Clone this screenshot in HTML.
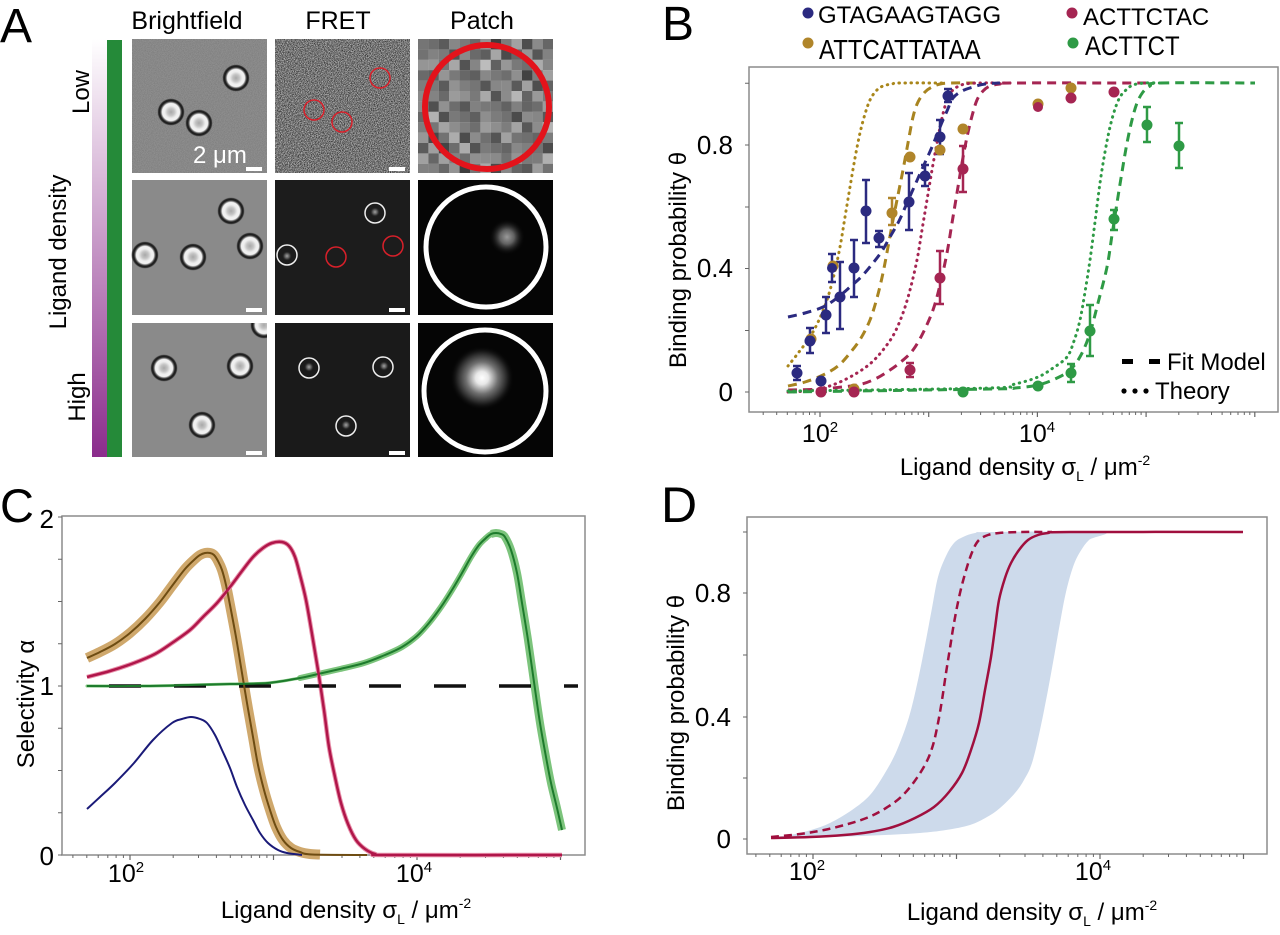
<!DOCTYPE html>
<html><head><meta charset="utf-8">
<style>
html,body{margin:0;padding:0;background:#fff;}
svg{display:block;}
text{font-family:"Liberation Sans",Arial,sans-serif;fill:#000;}
</style></head><body>
<svg width="1280" height="935" viewBox="0 0 1280 935" xmlns="http://www.w3.org/2000/svg">
<defs>
 <linearGradient id="lg" x1="0" y1="0" x2="0" y2="1">
  <stop offset="0" stop-color="#ffffff"/>
  <stop offset="1" stop-color="#8b2c8c"/>
 </linearGradient>
 <filter id="noise" x="0" y="0" width="1" height="1" color-interpolation-filters="sRGB">
  <feTurbulence type="fractalNoise" baseFrequency="1.3" numOctaves="1" seed="3"/>
  <feColorMatrix type="matrix" values="1.4 0 0 0 -0.24  1.4 0 0 0 -0.24  1.4 0 0 0 -0.24  0 0 0 0 1"/>
 </filter>
 <radialGradient id="bead">
  <stop offset="0" stop-color="#a8a8a8"/>
  <stop offset="0.25" stop-color="#c4c4c4"/>
  <stop offset="0.45" stop-color="#eeeeee"/>
  <stop offset="0.62" stop-color="#f2f2f2"/>
  <stop offset="0.72" stop-color="#606060"/>
  <stop offset="0.8" stop-color="#1a1a1a"/>
  <stop offset="0.9" stop-color="#2a2a2a"/>
  <stop offset="1" stop-color="#8a8a8a" stop-opacity="0"/>
 </radialGradient>
 <radialGradient id="spot">
  <stop offset="0" stop-color="#a0a0a0"/>
  <stop offset="0.5" stop-color="#555555"/>
  <stop offset="1" stop-color="#1c1c1c" stop-opacity="0"/>
 </radialGradient>
 <radialGradient id="spotM">
  <stop offset="0" stop-color="#9a9a9a"/>
  <stop offset="0.4" stop-color="#606060"/>
  <stop offset="1" stop-color="#050505" stop-opacity="0"/>
 </radialGradient>
 <radialGradient id="spotH">
  <stop offset="0" stop-color="#ffffff"/>
  <stop offset="0.2" stop-color="#e8e8e8"/>
  <stop offset="0.5" stop-color="#707070"/>
  <stop offset="0.8" stop-color="#202020"/>
  <stop offset="1" stop-color="#050505" stop-opacity="0"/>
 </radialGradient>
 <pattern id="pix" x="418" y="39" width="52" height="52" patternUnits="userSpaceOnUse">
  <rect x="0" y="0" width="10.4" height="10.4" fill="#5a5a5a"/><rect x="10.4" y="0" width="10.4" height="10.4" fill="#9a9a9a"/><rect x="20.8" y="0" width="10.4" height="10.4" fill="#3c3c3c"/><rect x="31.2" y="0" width="10.4" height="10.4" fill="#7e7e7e"/><rect x="41.6" y="0" width="10.4" height="10.4" fill="#b4b4b4"/>
  <rect x="0" y="10.4" width="10.4" height="10.4" fill="#888888"/><rect x="10.4" y="10.4" width="10.4" height="10.4" fill="#606060"/><rect x="20.8" y="10.4" width="10.4" height="10.4" fill="#a8a8a8"/><rect x="31.2" y="10.4" width="10.4" height="10.4" fill="#4a4a4a"/><rect x="41.6" y="10.4" width="10.4" height="10.4" fill="#707070"/>
  <rect x="0" y="20.8" width="10.4" height="10.4" fill="#727272"/><rect x="10.4" y="20.8" width="10.4" height="10.4" fill="#c0c0c0"/><rect x="20.8" y="20.8" width="10.4" height="10.4" fill="#555555"/><rect x="31.2" y="20.8" width="10.4" height="10.4" fill="#969696"/><rect x="41.6" y="20.8" width="10.4" height="10.4" fill="#3a3a3a"/>
  <rect x="0" y="31.2" width="10.4" height="10.4" fill="#444444"/><rect x="10.4" y="31.2" width="10.4" height="10.4" fill="#808080"/><rect x="20.8" y="31.2" width="10.4" height="10.4" fill="#b0b0b0"/><rect x="31.2" y="31.2" width="10.4" height="10.4" fill="#626262"/><rect x="41.6" y="31.2" width="10.4" height="10.4" fill="#8e8e8e"/>
  <rect x="0" y="41.6" width="10.4" height="10.4" fill="#9e9e9e"/><rect x="10.4" y="41.6" width="10.4" height="10.4" fill="#505050"/><rect x="20.8" y="41.6" width="10.4" height="10.4" fill="#6a6a6a"/><rect x="31.2" y="41.6" width="10.4" height="10.4" fill="#c8c8c8"/><rect x="41.6" y="41.6" width="10.4" height="10.4" fill="#585858"/>
 </pattern>
 <pattern id="pix2" x="418" y="39" width="31.2" height="31.2" patternUnits="userSpaceOnUse">
  <rect x="0" y="0" width="10.4" height="10.4" fill="#909090"/><rect x="10.4" y="0" width="10.4" height="10.4" fill="#404040"/><rect x="20.8" y="0" width="10.4" height="10.4" fill="#7a7a7a"/>
  <rect x="0" y="10.4" width="10.4" height="10.4" fill="#5c5c5c"/><rect x="10.4" y="10.4" width="10.4" height="10.4" fill="#a4a4a4"/><rect x="20.8" y="10.4" width="10.4" height="10.4" fill="#4c4c4c"/>
  <rect x="0" y="20.8" width="10.4" height="10.4" fill="#b8b8b8"/><rect x="10.4" y="20.8" width="10.4" height="10.4" fill="#6c6c6c"/><rect x="20.8" y="20.8" width="10.4" height="10.4" fill="#989898"/>
 </pattern>
 <clipPath id="bfh"><rect x="132" y="323" width="135" height="134"/></clipPath>
</defs>

<!-- ================= PANEL A ================= -->
<text x="0" y="42" font-size="48">A</text>
<text x="187" y="29" font-size="25" text-anchor="middle">Brightfield</text>
<text x="338" y="29" font-size="25" text-anchor="middle">FRET</text>
<text x="482" y="29" font-size="25" text-anchor="middle">Patch</text>
<text transform="translate(89,92) rotate(-90)" font-size="24" text-anchor="middle">Low</text>
<text transform="translate(66,252) rotate(-90)" font-size="24" text-anchor="middle">Ligand density</text>
<text transform="translate(85,397) rotate(-90)" font-size="24" text-anchor="middle">High</text>
<rect x="92" y="39" width="15" height="418" fill="url(#lg)"/>
<rect x="107" y="40" width="15" height="417" fill="#258a39"/>

<!-- Brightfield -->
<rect x="132" y="39" width="135" height="134" fill="#8b8b8b"/>
<rect x="132" y="39" width="135" height="134" filter="url(#noise)" opacity="0.12"/>
<circle cx="236" cy="78" r="14" fill="url(#bead)"/>
<circle cx="171" cy="112" r="14" fill="url(#bead)"/>
<circle cx="199" cy="123" r="14" fill="url(#bead)"/>
<text x="193" y="163" font-size="24" style="fill:#fff">2 μm</text>
<rect x="246" y="167" width="16" height="4" fill="#fff"/>

<rect x="132" y="180" width="135" height="135" fill="#8a8a8a"/>
<circle cx="231" cy="211" r="14" fill="url(#bead)"/>
<circle cx="145" cy="255" r="14" fill="url(#bead)"/>
<circle cx="193" cy="257" r="14" fill="url(#bead)"/>
<circle cx="250" cy="246" r="14" fill="url(#bead)"/>
<rect x="246" y="308" width="16" height="4" fill="#fff"/>

<rect x="132" y="323" width="135" height="134" fill="#8a8a8a"/>
<g clip-path="url(#bfh)">
<circle cx="164" cy="368" r="14" fill="url(#bead)"/>
<circle cx="240" cy="366" r="14" fill="url(#bead)"/>
<circle cx="202" cy="425" r="14" fill="url(#bead)"/>
<circle cx="264" cy="325" r="14" fill="url(#bead)"/>
</g>
<rect x="246" y="451" width="16" height="4" fill="#fff"/>

<!-- FRET -->
<rect x="275" y="39" width="135" height="134" fill="#707070"/>
<rect x="275" y="39" width="135" height="134" filter="url(#noise)"/>
<g fill="none" stroke="#d8202a" stroke-width="1.5">
<circle cx="380" cy="78" r="10"/><circle cx="314" cy="110" r="10"/><circle cx="342" cy="122" r="10"/>
</g>
<rect x="389" y="167" width="16" height="4" fill="#fff"/>

<rect x="275" y="180" width="135" height="135" fill="#1c1c1c"/>
<circle cx="375" cy="212" r="5" fill="url(#spot)"/>
<circle cx="287" cy="256" r="5" fill="url(#spot)"/>
<g fill="none" stroke="#eeeeee" stroke-width="1.5"><circle cx="375" cy="213" r="10"/><circle cx="287" cy="255" r="10"/></g>
<g fill="none" stroke="#d8202a" stroke-width="1.5"><circle cx="336" cy="257" r="10"/><circle cx="393" cy="246" r="10"/></g>
<rect x="389" y="308" width="16" height="4" fill="#fff"/>

<rect x="275" y="323" width="135" height="134" fill="#1a1a1a"/>
<circle cx="309" cy="367" r="5" fill="url(#spot)"/>
<circle cx="384" cy="366" r="5" fill="url(#spot)"/>
<circle cx="346" cy="425" r="5" fill="url(#spot)"/>
<g fill="none" stroke="#eeeeee" stroke-width="1.5"><circle cx="309" cy="368" r="10"/><circle cx="383" cy="367" r="10"/><circle cx="346" cy="426" r="10"/></g>
<rect x="389" y="451" width="16" height="4" fill="#fff"/>

<!-- Patch -->
<rect x="418" y="39" width="135" height="134" fill="url(#pix)"/>
<rect x="418" y="39" width="135" height="134" fill="url(#pix2)" opacity="0.5"/>
<circle cx="487" cy="107" r="62" fill="none" stroke="#e3131b" stroke-width="6"/>
<rect x="418" y="180" width="135" height="135" fill="#050505"/>
<circle cx="507" cy="237" r="18" fill="url(#spotM)"/>
<circle cx="486" cy="247" r="60" fill="none" stroke="#fff" stroke-width="5"/>
<rect x="418" y="323" width="135" height="134" fill="#050505"/>
<circle cx="482" cy="378" r="32" fill="url(#spotH)"/>
<circle cx="485" cy="391" r="61" fill="none" stroke="#fff" stroke-width="5"/>

<!-- ================= PANEL B ================= -->
<text x="662" y="40" font-size="48">B</text>
<circle cx="808" cy="13" r="5.5" fill="#2b2a80"/>
<text x="818" y="23" font-size="24">GTAGAAGTAGG</text>
<circle cx="808" cy="43" r="5.5" fill="#b0852a"/>
<text x="819" y="59" font-size="24" transform="translate(0,-9.8) scale(1,1.166)">ATTCATTATAA</text>
<circle cx="1072" cy="13" r="5.5" fill="#a52552"/>
<text x="1083" y="25" font-size="24">ACTTCTAC</text>
<circle cx="1073" cy="43" r="5.5" fill="#2e9a45"/>
<text x="1085" y="55" font-size="24" transform="translate(0,-5.5) scale(1,1.1)">ACTTCT</text>

<rect x="749" y="67" width="529" height="345" fill="none" stroke="#8c8c8c" stroke-width="1.5"/>
<path d="M745,83.3H749M745,145H749M745,207H749M745,268.5H749M745,330.5H749M745,392H749" stroke="#666" stroke-width="1"/>
<path d="M763.2,412v3M776.7,412v3M787.3,412v3M795.9,412v3M803.2,412v3M809.5,412v3M815,412v3M852.7,412v3M871.9,412v3M885.4,412v3M896,412v3M904.6,412v3M911.9,412v3M918.2,412v3M923.7,412v3M961.4,412v3M980.6,412v3M994.1,412v3M1004.7,412v3M1013.3,412v3M1020.6,412v3M1026.9,412v3M1032.4,412v3M1070.1,412v3M1089.3,412v3M1102.8,412v3M1113.4,412v3M1122,412v3M1129.3,412v3M1135.6,412v3M1141.1,412v3M1178.8,412v3M1198,412v3M1211.5,412v3M1222.1,412v3M1230.7,412v3M1238,412v3M1244.3,412v3M1249.8,412v3" stroke="#666" stroke-width="1"/>
<path d="M820,412v5M928.7,412v5M1037.4,412v5M1146.1,412v5M1254.8,412v5" stroke="#666" stroke-width="1.2"/>
<text x="733" y="154" font-size="26" text-anchor="end">0.8</text>
<text x="733" y="277" font-size="26" text-anchor="end">0.4</text>
<text x="733" y="401" font-size="26" text-anchor="end">0</text>
<text x="820" y="442" font-size="25" text-anchor="middle">10<tspan dy="-10" font-size="15">2</tspan></text>
<text x="1037" y="442" font-size="25" text-anchor="middle">10<tspan dy="-10" font-size="15">4</tspan></text>
<text x="1025" y="475" font-size="24" text-anchor="middle">Ligand density σ<tspan dy="6" font-size="14">L</tspan><tspan dy="-6"> / μm</tspan><tspan dy="-10" font-size="14">-2</tspan></text>
<text transform="translate(686,260) rotate(-90)" font-size="24" text-anchor="middle">Binding probability θ</text>

<!-- B curves -->
<g fill="none" stroke-width="3" stroke-linejoin="round">
<path class="sm" stroke="#a9861a" stroke-linecap="round" stroke-dasharray="0.5 5.5" d="M788,366 L799,352 L810,337 L819,320 L827,300 L834,275 L840,247 L845,217 L850,187 L855,158 L860,133 L865,114 L870,100 L876,91 L883,86 L892,84 L900,83 L946,83"/>
<path class="sm" stroke="#a88420" stroke-dasharray="9 6" d="M788,386 L805,382 L823,375 L838,366 L850,353 L861,338 L870,320 L877,298 L883,273 L888,247 L893,220 L898,195 L903,170 L908,143 L913,117 L918,102 L925,92 L932,87 L940,84 L950,83 L975,83"/>
<path class="sm" stroke="#a52552" stroke-linecap="round" stroke-dasharray="0.5 5.5" d="M788,392 L806,391 L823,388 L840,382 L857,373 L871,363 L883,350 L894,334 L903,313 L910,290 L917,260 L922,230 L927,200 L932,170 L937,143 L942,118 L947,100 L952,91 L957,87 L965,84 L980,83 L1010,83"/>
<path class="sm" stroke="#a52552" stroke-dasharray="9 6" d="M788,390 L820,389 L857,385 L875,379 L890,370 L902,361 L913,350 L923,333 L933,310 L940,285 L947,253 L952,223 L957,193 L962,163 L967,137 L972,116 L977,100 L983,91 L990,86 L1000,84 L1010,83 L1147,83"/>
<path class="sm" stroke="#2b2a80" stroke-dasharray="9 6" d="M788,317 L805,313 L823,307 L837,298 L850,287 L862,276 L873,263 L882,251 L890,237 L899,221 L907,203 L915,185 L923,167 L932,147 L940,127 L947,111 L953,98 L962,91 L973,87 L985,84 L1000,83"/>
<path class="sm" stroke="#2e9a45" stroke-linecap="round" stroke-dasharray="0.5 5.5" d="M788,391 L990,388 L1015,384 L1038,377 L1053,368 L1067,357 L1074,341 L1080,320 L1085,292 L1090,260 L1095,222 L1100,183 L1105,152 L1110,127 L1115,109 L1120,97 L1126,90 L1133,85 L1145,83 L1160,83"/>
<path class="sm" stroke="#2e9a45" stroke-dasharray="9 6" d="M788,392 L990,389 L1015,388 L1038,385 L1055,379 L1070,370 L1081,355 L1090,333 L1098,303 L1107,267 L1112,235 L1117,203 L1122,172 L1127,143 L1132,120 L1137,103 L1143,92 L1150,86 L1160,83 L1255,83"/>
</g>

<!-- B error bars -->
<g fill="none" stroke-width="2.5">
<path stroke="#b0852a" d="M892,198V225M888,198H896M888,225H896"/>
<path stroke="#a52552" d="M910,363V377M906,363H914M906,377H914 M940,251V304M936,251H944M936,304H944 M963,146V192M959,146H967M959,192H967"/>
<path stroke="#2e9a45" d="M1071,364V382M1067,364H1075M1067,382H1075 M1090,305V356M1086,305H1094M1086,356H1094 M1114,210V230M1110,210H1118M1110,230H1118 M1147,107V142M1143,107H1151M1143,142H1151 M1179,123V168M1175,123H1183M1175,168H1183"/>
<path stroke="#2b2a80" d="M797,366V380M793,366H801M793,380H801 M810,328V353M806,328H814M806,353H814 M826,297V333M822,297H830M822,333H830 M832,254V282M828,254H836M828,282H836 M840,262V329M836,262H844M836,329H844 M854,240V297M850,240H858M850,297H858 M866,180V243M862,180H870M862,243H870 M879,231V247M875,231H883M875,247H883 M909,173V230M905,173H913M905,230H913 M925,165V186M921,165H929M921,186H929 M940,120V154M936,120H944M936,154H944 M948,89V102M944,89H952M944,102H952"/>
</g>
<!-- B points -->
<g fill="#b0852a">
<circle cx="833" cy="266" r="5.5"/><circle cx="811" cy="339" r="5.5"/><circle cx="892" cy="213" r="5.5"/><circle cx="910" cy="157" r="5.5"/><circle cx="940" cy="150" r="5.5"/><circle cx="963" cy="129" r="5.5"/><circle cx="1038" cy="104" r="5.5"/><circle cx="1071" cy="88" r="5.5"/><circle cx="854" cy="389" r="5.5"/>
</g>
<g fill="#a52552">
<circle cx="821" cy="392" r="5.5"/><circle cx="854" cy="392" r="5.5"/><circle cx="910" cy="370" r="5.5"/><circle cx="940" cy="278" r="5.5"/><circle cx="963" cy="169" r="5.5"/><circle cx="1038" cy="107" r="5"/><circle cx="1071" cy="98" r="5.5"/><circle cx="1114" cy="92" r="5.5"/>
</g>
<g fill="#2e9a45">
<circle cx="963" cy="392" r="5.5"/><circle cx="1038" cy="386" r="5.5"/><circle cx="1071" cy="373" r="5.5"/><circle cx="1090" cy="331" r="5.5"/><circle cx="1114" cy="219" r="5.5"/><circle cx="1147" cy="125" r="5.5"/><circle cx="1179" cy="146" r="5.5"/>
</g>
<g fill="#2b2a80">
<circle cx="797" cy="373" r="5.5"/><circle cx="810" cy="341" r="5.5"/><circle cx="821" cy="381" r="5.5"/><circle cx="826" cy="315" r="5.5"/><circle cx="832" cy="268" r="5"/><circle cx="840" cy="297" r="5.5"/><circle cx="854" cy="268" r="5.5"/><circle cx="866" cy="211" r="5.5"/><circle cx="879" cy="238" r="5.5"/><circle cx="909" cy="202" r="5.5"/><circle cx="925" cy="176" r="5.5"/><circle cx="940" cy="137" r="5.5"/><circle cx="948" cy="96" r="5.5"/>
</g>
<!-- B legend (line styles) -->
<rect x="1122" y="359" width="11" height="5" fill="#000"/>
<rect x="1149" y="359" width="11" height="5" fill="#000"/>
<text x="1167" y="370" font-size="24">Fit Model</text>
<circle cx="1124" cy="391" r="2.6" fill="#000"/><circle cx="1135" cy="391" r="2.6" fill="#000"/><circle cx="1146" cy="391" r="2.6" fill="#000"/>
<text x="1155" y="399" font-size="24">Theory</text>

<!-- ================= PANEL C ================= -->
<text x="0" y="522" font-size="47">C</text>
<rect x="62" y="516" width="523" height="339" fill="none" stroke="#8c8c8c" stroke-width="1.5"/>
<path d="M58,855H62M58,812.75H62M58,770.5H62M58,728.25H62M58,686H62M58,643.75H62M58,601.5H62M58,559.25H62M58,517H62" stroke="#666" stroke-width="1"/>
<path d="M72.9,855v3M86.8,855v3M98.2,855v3M107.8,855v3M116.1,855v3M123.4,855v3M173.2,855v3M198.5,855v3M216.4,855v3M230.3,855v3M241.7,855v3M251.3,855v3M259.6,855v3M266.9,855v3M316.7,855v3M342,855v3M359.9,855v3M373.8,855v3M385.2,855v3M394.8,855v3M403.1,855v3M410.4,855v3M460.2,855v3M485.5,855v3M503.4,855v3M517.3,855v3M528.7,855v3M538.3,855v3M546.6,855v3M553.9,855v3" stroke="#666" stroke-width="1"/>
<path d="M130,855v5M273.5,855v5M417,855v5M560.5,855v5" stroke="#666" stroke-width="1.2"/>
<text x="54" y="528" font-size="26" text-anchor="end">2</text>
<text x="54" y="695" font-size="26" text-anchor="end">1</text>
<text x="54" y="865" font-size="26" text-anchor="end">0</text>
<text x="126" y="882" font-size="25" text-anchor="middle">10<tspan dy="-10" font-size="15">2</tspan></text>
<text x="414" y="882" font-size="25" text-anchor="middle">10<tspan dy="-10" font-size="15">4</tspan></text>
<text x="346" y="918" font-size="24" text-anchor="middle">Ligand density σ<tspan dy="6" font-size="14">L</tspan><tspan dy="-6"> / μm</tspan><tspan dy="-10" font-size="14">-2</tspan></text>
<text transform="translate(34,704) rotate(-90)" font-size="24" text-anchor="middle">Selectivity α</text>

<g fill="none" stroke-linejoin="round">
<!-- gold band -->
<path class="sm" stroke="#cfa86c" stroke-width="10" d="M87,658 L100,652 L115,644 L130,633 L145,619 L160,602 L172,586 L185,569 L195,559 L200,555 L205,553 L210,553 L214,555 L218,561 L222,570 L226,585 L230,605 L236,637 L241,667 L247,703 L253,737 L258,765 L264,790 L270,810 L276,827 L283,840 L291,848 L300,852 L310,854 L320,854.5"/>
<!-- green band -->
<path class="sm" stroke="#7cc47c" stroke-width="3" stroke-linecap="round" d="M87,686 L150,686 L191,685 L230,684 L268,683 L300,678 L318,674"/>
<path class="sm" stroke="#7cc47c" stroke-width="6" stroke-linecap="round" d="M300,678 L318,674 L340,669 L364,663 L385,655 L402,647 L417,636 L429,623 L441,607 L452,590 L462,573 L471,557 L479,545 L486,538 L491,534 L496,533 L501,534 L505,537 L511,550"/>
<path class="sm" stroke="#7cc47c" stroke-width="8" d="M491,534 L496,533 L501,534 L505,537 L511,550 L517,573 L522,603 L528,640 L534,682 L540,723 L546,757 L551,783 L557,808 L562,830"/>
<!-- crimson halo -->
<path class="sm" stroke="#e890aa" stroke-width="4.5" d="M87,677 L110,671 L134,663 L155,654 L172,643 L190,630 L203,617 L217,603 L230,587 L242,571 L253,557 L263,548 L272,543 L282,542 L289,546 L295,557 L300,575 L306,600 L312,634 L318,670 L324,710 L329,747 L335,777 L341,803 L348,824 L356,840 L365,849 L375,854 L390,855 L562,855"/>
</g>
<!-- black dashed -->
<path d="M87,686 L578,686" stroke="#111" stroke-width="3.5" stroke-dasharray="32 33" stroke-dashoffset="43" fill="none"/>
<g fill="none" stroke-linejoin="round">
<path class="sm" stroke="#6e4c12" stroke-width="2" d="M87,658 L100,652 L115,644 L130,633 L145,619 L160,602 L172,586 L185,569 L195,559 L200,555 L205,553 L210,553 L214,555 L218,561 L222,570 L226,585 L230,605 L236,637 L241,667 L247,703 L253,737 L258,765 L264,790 L270,810 L276,827 L283,840 L291,848 L300,852 L312,854.5 L367,855"/>
<path class="sm" stroke="#1d7b2c" stroke-width="2" d="M87,686 L150,686 L191,685 L230,684 L268,683 L300,678 L318,674 L340,669 L364,663 L385,655 L402,647 L417,636 L429,623 L441,607 L452,590 L462,573 L471,557 L479,545 L486,538 L491,534 L496,533 L501,534 L505,537 L511,550 L517,573 L522,603 L528,640 L534,682 L540,723 L546,757 L551,783 L557,808 L562,830"/>
<path class="sm" stroke="#b0164a" stroke-width="2.5" d="M87,677 L110,671 L134,663 L155,654 L172,643 L190,630 L203,617 L217,603 L230,587 L242,571 L253,557 L263,548 L272,543 L282,542 L289,546 L295,557 L300,575 L306,600 L312,634 L318,670 L324,710 L329,747 L335,777 L341,803 L348,824 L356,840 L365,849 L375,854 L390,855 L562,855"/>
<path class="sm" stroke="#1a1a78" stroke-width="2" d="M87,809 L100,797 L115,783 L134,763 L153,740 L172,723 L182,719 L191,717 L200,719 L207,723 L215,735 L222,750 L230,768 L237,787 L245,805 L253,820 L260,833 L268,843 L278,850 L287,853 L302,855"/>
</g>

<!-- ================= PANEL D ================= -->
<text x="661" y="522" font-size="50">D</text>
<rect x="747" y="517" width="520" height="337" fill="none" stroke="#8c8c8c" stroke-width="1.5"/>
<path d="M743,532H747M743,593H747M743,655H747M743,717H747M743,778H747M743,839H747" stroke="#666" stroke-width="1"/>
<path d="M755.9,854v3M769.8,854v3M781.2,854v3M790.8,854v3M799.1,854v3M806.4,854v3M856.2,854v3M881.5,854v3M899.4,854v3M913.3,854v3M924.7,854v3M934.3,854v3M942.6,854v3M949.9,854v3M999.7,854v3M1025,854v3M1042.9,854v3M1056.8,854v3M1068.2,854v3M1077.8,854v3M1086.1,854v3M1093.4,854v3M1143.2,854v3M1168.5,854v3M1186.4,854v3M1200.3,854v3M1211.7,854v3M1221.3,854v3M1229.6,854v3M1236.9,854v3" stroke="#666" stroke-width="1"/>
<path d="M813,854v5M956.5,854v5M1100,854v5M1243.5,854v5" stroke="#666" stroke-width="1.2"/>
<text x="731" y="602" font-size="26" text-anchor="end">0.8</text>
<text x="731" y="726" font-size="26" text-anchor="end">0.4</text>
<text x="731" y="848" font-size="26" text-anchor="end">0</text>
<text x="807" y="880" font-size="25" text-anchor="middle">10<tspan dy="-10" font-size="15">2</tspan></text>
<text x="1093" y="880" font-size="25" text-anchor="middle">10<tspan dy="-10" font-size="15">4</tspan></text>
<text x="1032" y="920" font-size="24" text-anchor="middle">Ligand density σ<tspan dy="6" font-size="14">L</tspan><tspan dy="-6"> / μm</tspan><tspan dy="-10" font-size="14">-2</tspan></text>
<text transform="translate(684,703) rotate(-90)" font-size="24" text-anchor="middle">Binding probability θ</text>

<path class="sm" fill="#cddaeb" d="M771,837 L790,835 L811,830 L830,823 L852,810 L870,795 L885,773 L897,750 L909,717 L918,680 L926,640 L932,608 L938,577 L946,556 L954,543 L963,537 L975,533 L990,532 L1101,532 L1089,540 L1080,552 L1073,567 L1066,592 L1060,623 L1054,657 L1048,690 L1040,730 L1032,763 L1024,780 L1015,793 L1000,808 L987,817 L970,825 L946,830 L920,833 L885,835 L830,837 L771,838 Z"/>
<g fill="none" stroke="#a00f3e" stroke-width="2.5" stroke-linejoin="round">
<path class="sm" stroke-dasharray="8 5" d="M771,837 L800,834 L824,830 L848,824 L869,817 L886,808 L901,797 L914,782 L926,763 L933,745 L938,723 L942,700 L946,673 L950,648 L954,623 L960,593 L967,567 L973,550 L979,540 L988,535 L999,533 L1020,532 L1052,532"/>
<path class="sm" d="M771,838 L810,837 L844,835 L870,832 L893,827 L915,818 L934,807 L949,792 L962,773 L971,750 L979,723 L985,690 L991,657 L995,628 L999,600 L1005,578 L1011,563 L1019,550 L1028,540 L1038,535 L1048,533 L1070,532 L1243,532"/>
</g>
</svg>
<script>
(function(){
  try{
    var ps=document.querySelectorAll('path.sm');
    for(var k=0;k<ps.length;k++){
      var p=ps[k];
      var d0=p.getAttribute('d');
      var closed=/Z\s*$/i.test(d0);
      var nums=d0.match(/-?\d+(\.\d+)?/g);
      if(!nums)continue;
      nums=nums.map(Number);
      var pts=[];
      for(var i=0;i+1<nums.length;i+=2)pts.push([nums[i],nums[i+1]]);
      if(pts.length<3)continue;
      var n=pts.length;
      var d='M'+pts[0][0]+','+pts[0][1];
      for(var i=0;i<n-1;i++){
        var p0=pts[i>0?i-1:0],p1=pts[i],p2=pts[i+1],p3=pts[i+2<n?i+2:i+1];
        var c1x=p1[0]+(p2[0]-p0[0])/6,c1y=p1[1]+(p2[1]-p0[1])/6;
        var c2x=p2[0]-(p3[0]-p1[0])/6,c2y=p2[1]-(p3[1]-p1[1])/6;
        d+=' C'+c1x.toFixed(2)+','+c1y.toFixed(2)+' '+c2x.toFixed(2)+','+c2y.toFixed(2)+' '+p2[0]+','+p2[1];
      }
      if(closed)d+=' Z';
      p.setAttribute('d',d);
    }
  }catch(e){}
})();
</script>
</body></html>
